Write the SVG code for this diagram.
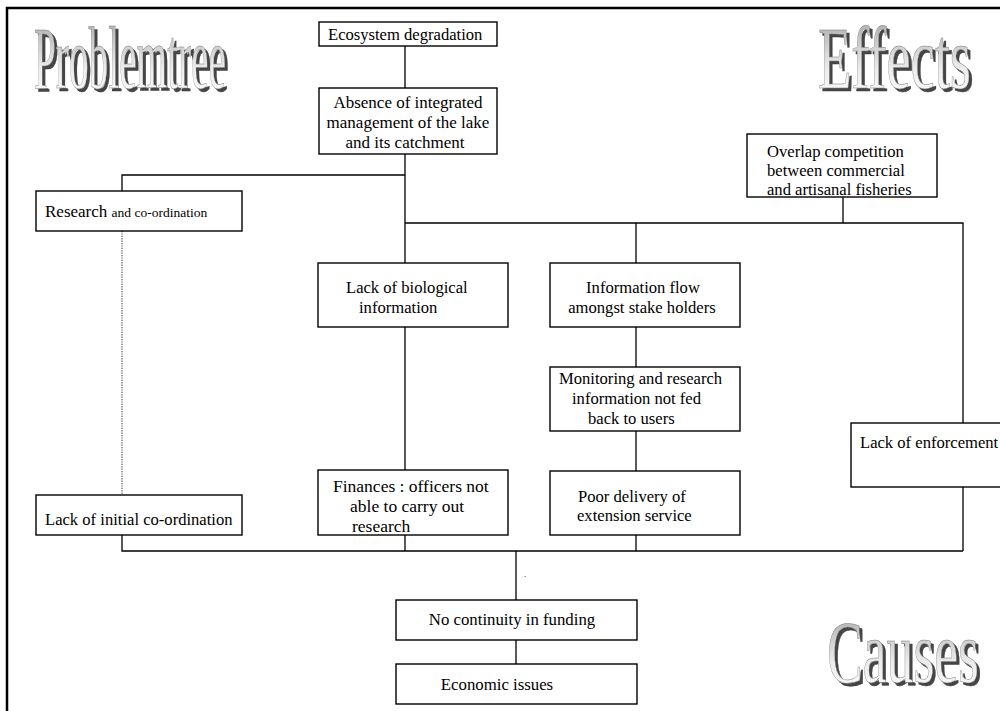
<svg xmlns="http://www.w3.org/2000/svg" width="1000" height="711" viewBox="0 0 1000 711">
<style>
.box{fill:#fff;stroke:#000;stroke-width:1.4}
.t{font-family:"Liberation Serif","Times New Roman",serif;font-size:16.6px;fill:#000}
.c{text-anchor:middle}
.ln{stroke:#000;stroke-width:1.3;fill:none}
.dot{stroke:#555;stroke-width:1.2;stroke-dasharray:1.2 1.2;fill:none}
.wa{font-family:"Liberation Serif","Times New Roman",serif;font-size:88px;fill:url(#wg);stroke:#777;stroke-width:0.5;filter:url(#sh)}
</style>
<defs>
<linearGradient id="wg" x1="0" y1="0" x2="0" y2="1">
<stop offset="0" stop-color="#a0a0a0"/>
<stop offset="0.6" stop-color="#ececec"/>
<stop offset="1" stop-color="#ffffff"/>
</linearGradient>
<filter id="sh" x="-5%" y="-10%" width="115%" height="130%">
<feFlood flood-color="#444"/>
<feComposite in2="SourceAlpha" operator="in"/>
<feOffset dx="3" dy="3" result="s"/>
<feMerge><feMergeNode in="s"/><feMergeNode in="SourceGraphic"/></feMerge>
</filter>
</defs>
<rect x="0" y="0" width="1000" height="711" fill="#fff"/>
<path d="M7,711 V8 H1000" fill="none" stroke="#000" stroke-width="2.5"/>

<g id="title-problemtree">
<text class="wa" x="34" y="88" textLength="192" lengthAdjust="spacingAndGlyphs">Problemtree</text>
</g>
<g id="title-effects">
<text class="wa" x="818" y="88" textLength="153" lengthAdjust="spacingAndGlyphs">Effects</text>
</g>
<g id="title-causes">
<text class="wa" x="827" y="682" textLength="152" lengthAdjust="spacingAndGlyphs">Causes</text>
</g>

<g id="connectors">
<path class="ln" d="M405,46 V88"/>
<path class="ln" d="M405,154 V223"/>
<path class="ln" d="M122,191 V175 H405"/>
<path class="ln" d="M405,223 H963 V423"/>
<path class="ln" d="M843,197 V223"/>
<path class="ln" d="M963,487 V551"/>
<path class="ln" d="M405,223 V263"/>
<path class="ln" d="M405,327 V470"/>
<path class="ln" d="M636,223 V263"/>
<path class="ln" d="M636,327 V367"/>
<path class="ln" d="M636,431 V471"/>
<path class="ln" d="M122,535 V551 H963"/>
<path class="ln" d="M405,535 V551"/>
<path class="ln" d="M636,535 V551"/>
<path class="ln" d="M516,551 V600"/>
<path class="ln" d="M516,640 V664"/>
<path class="dot" d="M122,231 V495"/>
</g>

<g id="ecosystem-degradation">
<rect class="box" x="319" y="22" width="178" height="24"/>
<text class="t" x="328" y="40">Ecosystem degradation</text>
</g>
<g id="absence-integrated">
<rect class="box" x="319" y="88" width="178" height="66"/>
<text class="t c" x="408" y="108" style="font-size:17px">Absence of integrated</text>
<text class="t c" x="408" y="128" style="font-size:17px">management of the lake</text>
<text class="t c" x="405" y="148" style="font-size:17px">and its catchment</text>
</g>
<g id="overlap-competition">
<rect class="box" x="747" y="134" width="190" height="63"/>
<text class="t" x="767" y="157">Overlap competition</text>
<text class="t" x="767" y="176">between commercial</text>
<text class="t" x="767" y="195">and artisanal fisheries</text>
</g>
<g id="research-coordination">
<rect class="box" x="36" y="191" width="206" height="40"/>
<text class="t" x="45" y="217" style="font-size:17px">Research <tspan style="font-size:13.5px">and co-ordination</tspan></text>
</g>
<g id="lack-biological">
<rect class="box" x="318" y="263" width="190" height="64"/>
<text class="t" x="346" y="293">Lack of biological</text>
<text class="t" x="359" y="313">information</text>
</g>
<g id="information-flow">
<rect class="box" x="550" y="263" width="190" height="64"/>
<text class="t c" x="643" y="293">Information flow</text>
<text class="t c" x="642" y="313">amongst stake holders</text>
</g>
<g id="monitoring-research">
<rect class="box" x="550" y="367" width="190" height="64"/>
<text class="t" x="559" y="384">Monitoring and research</text>
<text class="t" x="572" y="404">information not fed</text>
<text class="t" x="588" y="424">back to users</text>
</g>
<g id="poor-delivery">
<rect class="box" x="550" y="471" width="190" height="64"/>
<text class="t" x="578" y="502">Poor delivery of</text>
<text class="t" x="577" y="521">extension service</text>
</g>
<g id="finances">
<rect class="box" x="318" y="470" width="190" height="65"/>
<text class="t" x="333" y="492" style="font-size:17.5px">Finances : officers not</text>
<text class="t" x="350" y="512" style="font-size:17.5px">able to carry out</text>
<text class="t" x="352" y="532" style="font-size:17.5px">research</text>
</g>
<g id="lack-initial-coordination">
<rect class="box" x="36" y="495" width="206" height="40"/>
<text class="t" x="45" y="525">Lack of initial co-ordination</text>
</g>
<g id="lack-enforcement">
<rect class="box" x="851" y="423" width="160" height="64"/>
<text class="t" x="860" y="448">Lack of enforcement</text>
</g>
<text class="t" x="524" y="577" style="font-size:9px">.</text>
<g id="no-continuity">
<rect class="box" x="396" y="600" width="241" height="40"/>
<text class="t c" x="512" y="625" style="font-size:16.8px">No continuity in funding</text>
</g>
<g id="economic-issues">
<rect class="box" x="396" y="664" width="241" height="40"/>
<text class="t c" x="497" y="690" style="font-size:16.8px">Economic issues</text>
</g>
</svg>
